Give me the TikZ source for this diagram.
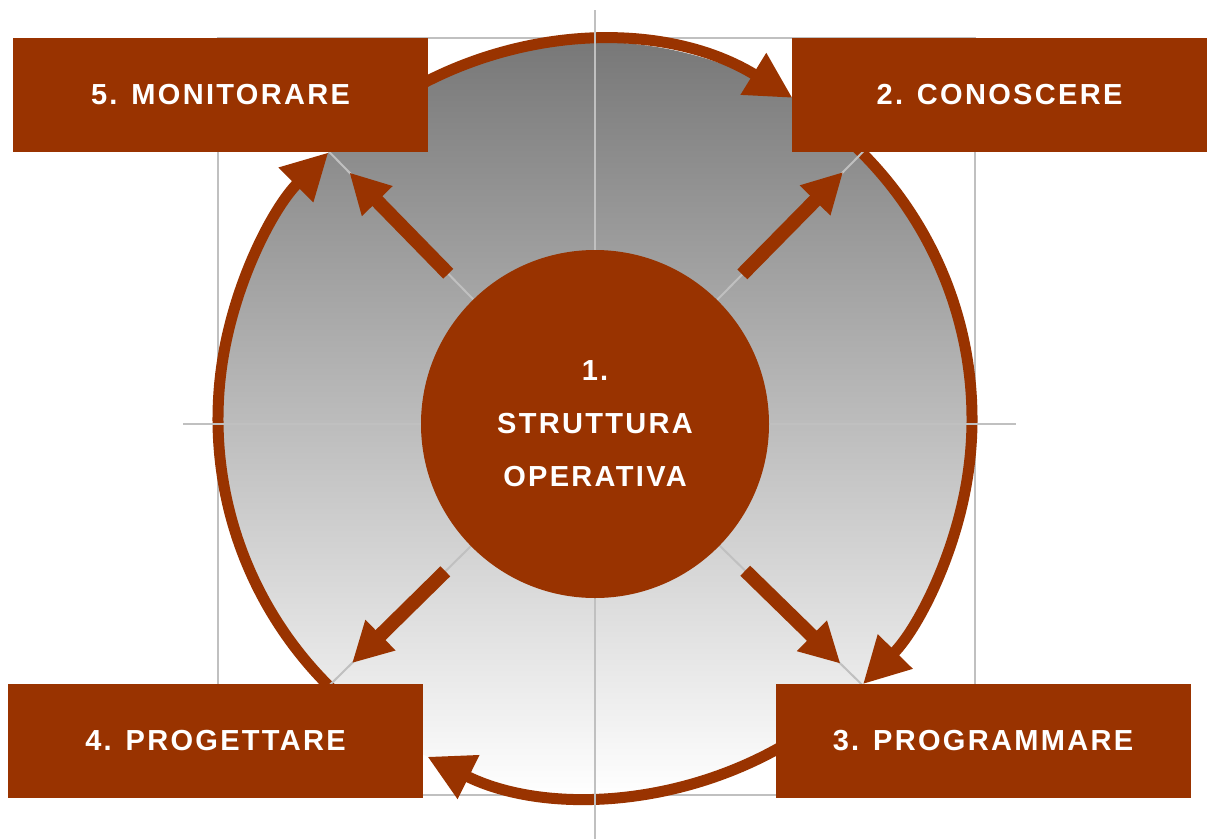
\documentclass[tikz,border=0pt]{standalone}
\usepackage{fontspec}
\setmainfont{Liberation Sans}
\newfontfamily\phasefont{Liberation Sans}[LetterSpace=8]
\usetikzlibrary{arrows.meta}
\definecolor{rust}{RGB}{153,51,0}
\definecolor{gridgray}{RGB}{192,192,192}
\definecolor{discgray}{RGB}{120,120,120}
\definecolor{discmid}{RGB}{200,200,200}
\tikzstyle{every node}=[font=\phasefont\bfseries\fontsize{29}{53}\selectfont,text=white]
\tikzstyle{phase}=[fill=rust,minimum width=415pt,minimum height=114pt,inner sep=0pt]
\tikzstyle{core}=[circle,fill=rust,minimum size=348pt,inner sep=0pt,align=center]
\tikzstyle{gridline}=[draw=gridgray,line width=2pt]
\tikzstyle{spoke}=[draw=rust,line width=14pt,-{Triangle[length=40pt,width=40pt]},shorten <=210pt,shorten >=188pt]
\tikzstyle{ring}=[draw=rust,line width=11pt,-{Triangle[length=46pt,width=46pt]}]

\begin{document}
\begin{tikzpicture}[x=1pt,y=-1pt]
    \useasboundingbox (0,0) rectangle (1211,839);
    \coordinate (hub) at (595,419);
    \coordinate (mid) at (595,424);
    \coordinate (nw) at (218,38);
    \coordinate (ne) at (975,38);
    \coordinate (se) at (975,795);
    \coordinate (sw) at (218,795);
    \draw[gridline] (nw) rectangle (se);
    \shade[top color=discgray,middle color=discmid,bottom color=white] (hub) circle[radius=377];
    % cycle 5 -> 2 -> 3 -> 4 -> 5
    \draw[ring] (hub) ++(-130:377) arc[start angle=-130,end angle=-58.4,radius=377];
    \draw[ring] (hub) ++(-50:377) arc[start angle=-50,end angle=44.7,radius=377];
    \draw[ring] (hub) ++(58:377) arc[start angle=58,end angle=116.4,radius=377];
    \draw[ring] (hub) ++(130:377) arc[start angle=130,end angle=225,radius=377];
    % axes
    \draw[gridline] (595,10) -- (595,839);
    \draw[gridline] (183,424) -- (1016,424);
    \foreach \c in {nw,ne,se,sw}
        \draw[gridline] (mid) -- (\c);
    \foreach \c in {nw,ne,se,sw}
        \draw[spoke] (mid) -- (\c);
    \node[core] (base) at (mid) {1.\\STRUTTURA\\OPERATIVA};
    \node[phase] (monitor) at (220.5,95) {5. MONITORARE};
    \node[phase] (know) at (999.5,95) {2. CONOSCERE};
    \node[phase] (schedule) at (983,740.5) {3. PROGRAMMARE};
    \node[phase] (design) at (215.5,741) {4. PROGETTARE};
\end{tikzpicture}
\end{document}
